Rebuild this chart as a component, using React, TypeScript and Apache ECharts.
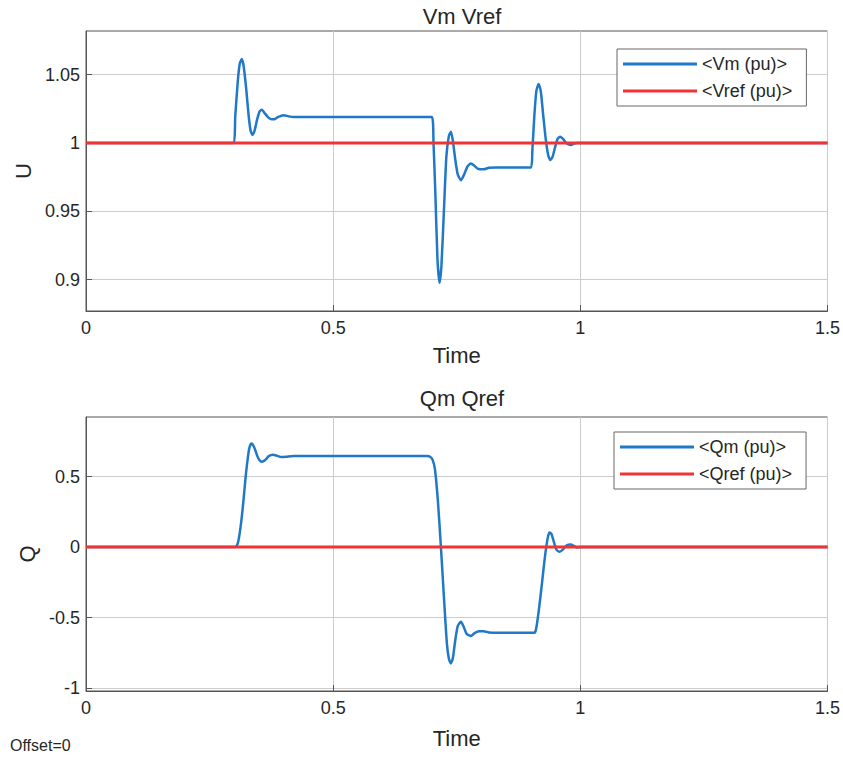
import React, { useEffect, useRef } from "react";
import * as echarts from "echarts";

const timeTicks = [0, 0.5, 1, 1.5];
const uTicks = [0.9, 0.95, 1, 1.05];
const qTicks = [-1, -0.5, 0, 0.5];

const seriesNames = ["<Vm (pu)>", "<Vref (pu)>", "<Qm (pu)>", "<Qref (pu)>"];

// Vm (pu) : [time, value]
const vmPoints: [number, number][] = [
  [0, 1.0], [0.2976, 1.0], [0.302, 1.02], [0.307, 1.045], [0.311, 1.058], [0.3152, 1.0615],
  [0.319, 1.056], [0.324, 1.04], [0.329, 1.02], [0.333, 1.009], [0.3366, 1.0059],
  [0.341, 1.009], [0.346, 1.017], [0.351, 1.023], [0.3557, 1.0243], [0.361, 1.022],
  [0.368, 1.019], [0.374, 1.0175], [0.3806, 1.0174], [0.388, 1.019], [0.3994, 1.0204],
  [0.41, 1.0195], [0.42, 1.019], [0.6998, 1.019],
  [0.703, 1.0], [0.707, 0.96], [0.711, 0.915], [0.7152, 0.8976], [0.719, 0.91],
  [0.724, 0.95], [0.729, 0.99], [0.734, 1.005], [0.7383, 1.0083], [0.742, 1.002],
  [0.747, 0.988], [0.752, 0.977], [0.7585, 0.9728], [0.765, 0.977], [0.772, 0.983],
  [0.7787, 0.985], [0.785, 0.9835], [0.793, 0.981], [0.8043, 0.9807], [0.815, 0.9818],
  [0.83, 0.9821], [0.9002, 0.9821],
  [0.903, 0.995], [0.907, 1.02], [0.911, 1.038], [0.9156, 1.0432], [0.92, 1.038],
  [0.925, 1.02], [0.93, 1.003], [0.935, 0.991], [0.9393, 0.9875], [0.944, 0.99],
  [0.949, 0.997], [0.954, 1.003], [0.9595, 1.0046], [0.965, 1.003], [0.97, 1.0005],
  [0.976, 0.999], [0.9812, 0.9985], [0.987, 0.9995], [0.993, 1.0], [1.5, 1.0],
];

// Vref (pu)
const vrefPoints: [number, number][] = [[0, 1.0], [1.5, 1.0]];

// Qm (pu)
const qmPoints: [number, number][] = [
  [0, 0], [0.3, 0], [0.304, 0.005], [0.308, 0.04], [0.313, 0.15], [0.318, 0.31],
  [0.323, 0.5], [0.328, 0.65], [0.331, 0.71], [0.335, 0.735], [0.34, 0.71],
  [0.346, 0.65], [0.351, 0.615], [0.356, 0.605], [0.362, 0.615], [0.37, 0.645],
  [0.378, 0.655], [0.386, 0.648], [0.395, 0.638], [0.405, 0.64], [0.42, 0.645],
  [0.69, 0.645], [0.696, 0.64], [0.701, 0.62], [0.706, 0.55], [0.712, 0.32],
  [0.718, 0.0], [0.724, -0.35], [0.73, -0.68], [0.734, -0.79], [0.738, -0.825],
  [0.742, -0.79], [0.747, -0.66], [0.752, -0.56], [0.7585, -0.53], [0.764, -0.565],
  [0.77, -0.615], [0.7787, -0.63], [0.786, -0.61], [0.795, -0.597], [0.804, -0.596],
  [0.815, -0.605], [0.83, -0.608], [0.906, -0.608], [0.909, -0.6], [0.912, -0.55],
  [0.917, -0.42], [0.922, -0.27], [0.926, -0.14], [0.931, 0.0], [0.935, 0.08],
  [0.938, 0.104], [0.942, 0.09], [0.947, 0.03], [0.952, -0.02], [0.958, -0.033],
  [0.964, -0.02], [0.97, 0.005], [0.976, 0.017], [0.981, 0.019], [0.987, 0.008],
  [0.993, -0.003], [1.0, 0.0], [1.5, 0.0],
];

// Qref (pu)
const qrefPoints: [number, number][] = [[0, 0], [1.5, 0]];

const FONT = "'Liberation Sans', Arial, sans-serif";
const BLUE = "#1f78c8";
const RED = "#f03434";
const FRAME = "#555555";
const GRIDC = "#cccccc";
const TXT = "#262626";

function xAxisCfg(gridIndex: number, nameGap: number) {
  return {
    gridIndex,
    type: "value",
    min: 0,
    max: 1.5,
    interval: 0.5,
    name: "Time",
    nameLocation: "middle",
    nameGap,
    nameTextStyle: { fontSize: 22, color: TXT, fontFamily: FONT },
    axisLine: { show: true, onZero: false, lineStyle: { color: FRAME, width: 1 } },
    axisTick: { show: true, inside: true, length: 6, customValues: timeTicks, lineStyle: { color: FRAME } },
    axisLabel: { show: true, fontSize: 18, color: TXT, margin: 8, fontFamily: FONT, customValues: timeTicks },
    splitLine: { show: true, lineStyle: { color: GRIDC, width: 1 } },
  };
}

function yAxisCfg(gridIndex: number, name: string, min: number, max: number, ticks: number[]) {
  return {
    gridIndex,
    type: "value",
    min,
    max,
    name,
    nameLocation: "middle",
    nameGap: 47,
    nameRotate: 90,
    nameTextStyle: { fontSize: 22, color: TXT, fontFamily: FONT },
    axisLine: { show: true, onZero: false, lineStyle: { color: FRAME, width: 1 } },
    axisTick: { show: true, inside: true, length: 6, customValues: ticks, lineStyle: { color: FRAME } },
    axisLabel: { show: true, fontSize: 18, color: TXT, margin: 6, fontFamily: FONT, customValues: ticks },
    splitLine: { show: true, lineStyle: { color: GRIDC, width: 1 } },
  };
}

function legendCfg(names: string[], left: number, top: number) {
  return {
    data: names,
    left,
    top,
    orient: "vertical",
    icon: "rect",
    itemWidth: 74,
    itemHeight: 3,
    itemGap: 9,
    padding: [6, 14, 6, 6],
    borderColor: "#666666",
    borderWidth: 1,
    backgroundColor: "#ffffff",
    textStyle: { fontSize: 18, lineHeight: 18, color: TXT, fontFamily: FONT },
  };
}

export default function App() {
  const ref = useRef<HTMLDivElement>(null);

  useEffect(() => {
    if (!ref.current) return;
    const chart = echarts.init(ref.current, undefined, { renderer: "svg" });
    chart.setOption({
      animation: false,
      backgroundColor: "#ffffff",
      textStyle: { fontFamily: FONT },
      title: [
        { text: "Vm Vref", left: 457, top: 0, textAlign: "center", textStyle: { fontSize: 22, fontWeight: "normal", color: TXT, fontFamily: FONT } },
        { text: "Qm Qref", left: 457, top: 382, textAlign: "center", textStyle: { fontSize: 22, fontWeight: "normal", color: TXT, fontFamily: FONT } },
      ],
      legend: [
        legendCfg([seriesNames[0], seriesNames[1]], 617, 49),
        legendCfg([seriesNames[2], seriesNames[3]], 614, 432),
      ],
      grid: [
        { left: 86, top: 31, width: 742, height: 280, show: true, borderColor: FRAME, borderWidth: 1, backgroundColor: "#ffffff" },
        { left: 86, top: 417, width: 742, height: 274, show: true, borderColor: FRAME, borderWidth: 1, backgroundColor: "#ffffff" },
      ],
      xAxis: [xAxisCfg(0, 33), xAxisCfg(1, 36)],
      yAxis: [
        yAxisCfg(0, "U", 0.877, 1.082, uTicks),
        yAxisCfg(1, "Q", -1.02, 0.922, qTicks),
      ],
      graphic: [
        { type: "text", left: 10, top: 737, style: { text: "Offset=0", fontSize: 16, fill: TXT, fontFamily: FONT } },
      ],
      series: [
        { name: seriesNames[0], type: "line", xAxisIndex: 0, yAxisIndex: 0, data: vmPoints, showSymbol: false, smooth: 0.2, color: BLUE, lineStyle: { width: 2.5, color: BLUE } },
        { name: seriesNames[1], type: "line", xAxisIndex: 0, yAxisIndex: 0, data: vrefPoints, showSymbol: false, color: RED, lineStyle: { width: 3, color: RED } },
        { name: seriesNames[2], type: "line", xAxisIndex: 1, yAxisIndex: 1, data: qmPoints, showSymbol: false, smooth: 0.2, color: BLUE, lineStyle: { width: 2.5, color: BLUE } },
        { name: seriesNames[3], type: "line", xAxisIndex: 1, yAxisIndex: 1, data: qrefPoints, showSymbol: false, color: RED, lineStyle: { width: 3, color: RED } },
      ],
    });
    return () => chart.dispose();
  }, []);

  return (
    <div
      ref={ref}
      style={{ position: "absolute", left: 0, top: 0, width: 843, height: 757 }}
    />
  );
}
